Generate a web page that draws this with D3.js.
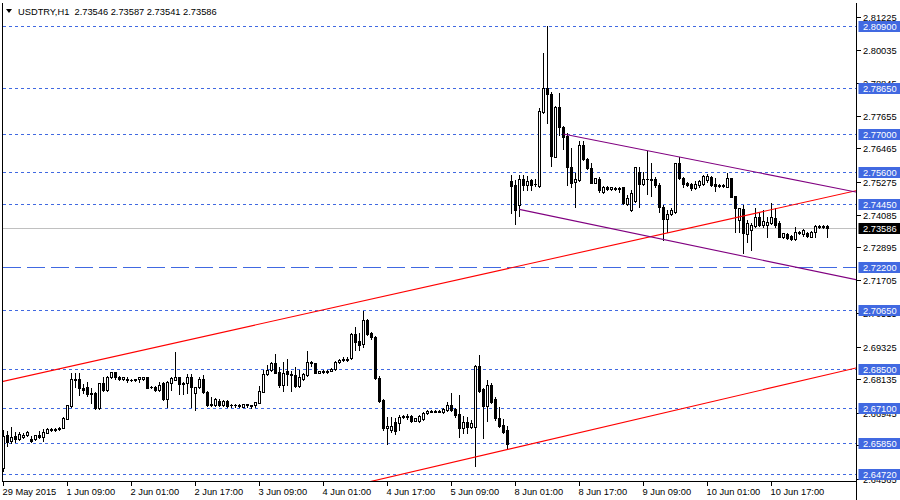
<!DOCTYPE html>
<html><head><meta charset="utf-8">
<script src="https://cdn.jsdelivr.net/npm/d3@7"></script>
<style>
html,body{margin:0;padding:0;background:#fff;}
svg{display:block;font-family:"Liberation Sans",Arial,sans-serif;}
</style></head><body>
<svg id="c" width="900" height="500"></svg>
<script>
// ---------------- DATA ----------------
const symbolTitle = "USDTRY,H1";
const headerValues = ["2.73546", "2.73587", "2.73541", "2.73586"];

// hourly candles: [open, high, low, close]
const candles = [
[2.6493,2.6631,2.6484,2.6610],[2.6613,2.6628,2.6573,2.6589],[2.6592,2.6641,2.6583,2.6607],[2.6610,2.6625,2.6589,2.6598],
[2.6598,2.6625,2.6595,2.6616],[2.6607,2.6619,2.6601,2.6613],[2.6613,2.6627,2.6610,2.6623],[2.6599,2.6610,2.6589,2.6592],
[2.6598,2.6613,2.6595,2.6612],[2.6613,2.6628,2.6601,2.6607],[2.6607,2.6634,2.6592,2.6624],[2.6622,2.6637,2.6620,2.6634],
[2.6634,2.6637,2.6629,2.6631],[2.6631,2.6637,2.6629,2.6634],[2.6634,2.6641,2.6631,2.6638],[2.6639,2.6677,2.6637,2.6673],
[2.6672,2.6722,2.6670,2.6721],[2.6718,2.6836,2.6716,2.6815],[2.6815,2.6836,2.6788,2.6812],[2.6815,2.6836,2.6758,2.6784],
[2.6784,2.6796,2.6764,2.6776],[2.6786,2.6806,2.6754,2.6760],[2.6766,2.6784,2.6728,2.6762],[2.6764,2.6770,2.6707,2.6710],
[2.6710,2.6802,2.6706,2.6800],[2.6802,2.6822,2.6773,2.6776],[2.6776,2.6826,2.6773,2.6824],[2.6822,2.6842,2.6818,2.6840],
[2.6840,2.6842,2.6815,2.6821],[2.6824,2.6826,2.6812,2.6817],[2.6817,2.6824,2.6812,2.6822],[2.6816,2.6821,2.6805,2.6813],
[2.6813,2.6816,2.6808,2.6810],[2.6810,2.6817,2.6808,2.6815],[2.6816,2.6822,2.6804,2.6822],[2.6815,2.6824,2.6813,2.6822],
[2.6822,2.6824,2.6782,2.6784],[2.6786,2.6790,2.6784,2.6788],[2.6788,2.6789,2.6773,2.6776],[2.6776,2.6806,2.6772,2.6794],
[2.6800,2.6806,2.6740,2.6742],[2.6742,2.6808,2.6716,2.6806],[2.6802,2.6824,2.6776,2.6820],[2.6812,2.6914,2.6810,2.6822],
[2.6822,2.6824,2.6760,2.6796],[2.6796,2.6806,2.6760,2.6800],[2.6800,2.6832,2.6764,2.6822],[2.6822,2.6832,2.6716,2.6788],
[2.6764,2.6788,2.6704,2.6788],[2.6788,2.6822,2.6784,2.6815],[2.6816,2.6830,2.6764,2.6768],[2.6770,2.6773,2.6718,2.6722],
[2.6722,2.6749,2.6718,2.6724],[2.6722,2.6746,2.6718,2.6742],[2.6736,2.6742,2.6718,2.6721],[2.6721,2.6740,2.6719,2.6737],
[2.6736,2.6740,2.6716,2.6718],[2.6720,2.6726,2.6716,2.6722],[2.6721,2.6726,2.6716,2.6722],[2.6721,2.6724,2.6713,2.6718],
[2.6716,2.6726,2.6714,2.6724],[2.6724,2.6726,2.6716,2.6722],[2.6720,2.6722,2.6710,2.6718],[2.6722,2.6734,2.6716,2.6731],
[2.6730,2.6790,2.6728,2.6772],[2.6770,2.6848,2.6768,2.6833],[2.6832,2.6866,2.6830,2.6848],[2.6848,2.6878,2.6845,2.6872],
[2.6874,2.6905,2.6836,2.6838],[2.6842,2.6860,2.6788,2.6794],[2.6794,2.6877,2.6771,2.6838],[2.6845,2.6886,2.6794,2.6833],
[2.6833,2.6845,2.6773,2.6829],[2.6830,2.6860,2.6786,2.6790],[2.6790,2.6848,2.6786,2.6822],[2.6815,2.6836,2.6812,2.6833],
[2.6830,2.6916,2.6826,2.6877],[2.6877,2.6881,2.6862,2.6872],[2.6872,2.6874,2.6836,2.6838],[2.6838,2.6845,2.6836,2.6843],
[2.6843,2.6846,2.6838,2.6840],[2.6840,2.6847,2.6838,2.6845],[2.6845,2.6856,2.6843,2.6852],[2.6850,2.6880,2.6848,2.6878],
[2.6877,2.6886,2.6874,2.6884],[2.6884,2.6893,2.6881,2.6886],[2.6886,2.6893,2.6881,2.6884],[2.6890,2.6980,2.6886,2.6977],
[2.6977,2.7004,2.6920,2.6950],[2.6953,2.6980,2.6920,2.6938],[2.6941,2.7062,2.6932,2.7028],[2.7028,2.7031,2.6974,2.6978],
[2.6982,2.6986,2.6960,2.6966],[2.6968,2.6970,2.6815,2.6818],[2.6820,2.6826,2.6733,2.6737],[2.6740,2.6742,2.6631,2.6638],
[2.6638,2.6679,2.6581,2.6646],[2.6630,2.6679,2.6625,2.6646],[2.6659,2.6673,2.6617,2.6629],[2.6656,2.6685,2.6631,2.6679],
[2.6677,2.6684,2.6675,2.6682],[2.6682,2.6689,2.6670,2.6679],[2.6682,2.6685,2.6660,2.6665],[2.6665,2.6676,2.6663,2.6674],
[2.6665,2.6685,2.6662,2.6682],[2.6670,2.6697,2.6667,2.6694],[2.6692,2.6703,2.6690,2.6701],[2.6701,2.6703,2.6696,2.6698],
[2.6698,2.6702,2.6696,2.6700],[2.6700,2.6702,2.6696,2.6698],[2.6698,2.6710,2.6694,2.6706],[2.6704,2.6733,2.6701,2.6722],
[2.6722,2.6764,2.6701,2.6704],[2.6706,2.6710,2.6679,2.6686],[2.6689,2.6758,2.6605,2.6638],[2.6638,2.6682,2.6622,2.6661],
[2.6661,2.6679,2.6620,2.6641],[2.6641,2.6667,2.6638,2.6658],[2.6643,2.6866,2.6502,2.6862],[2.6862,2.6902,2.6770,2.6773],
[2.6778,2.6782,2.6601,2.6718],[2.6718,2.6812,2.6665,2.6794],[2.6794,2.6800,2.6730,2.6733],[2.6742,2.6752,2.6667,2.6673],
[2.6673,2.6713,2.6643,2.6646],[2.6649,2.6670,2.6622,2.6625],[2.6631,2.6646,2.6562,2.6581],
[2.7529,2.7551,2.7415,2.7512],[2.7515,2.7533,2.7374,2.7425],[2.7443,2.7551,2.7403,2.7535],[2.7535,2.7551,2.7497,2.7515],
[2.7515,2.7547,2.7497,2.7530],[2.7533,2.7535,2.7497,2.7515],[2.7519,2.7537,2.7511,2.7518],[2.7512,2.7793,2.7508,2.7783],
[2.7779,2.7990,2.7776,2.7864],[2.7864,2.8088,2.7740,2.7843],[2.7843,2.7851,2.7583,2.7619],[2.7617,2.7800,2.7615,2.7795],
[2.7795,2.7848,2.7695,2.7723],[2.7723,2.7728,2.7644,2.7689],[2.7692,2.7701,2.7515,2.7579],[2.7581,2.7647,2.7509,2.7523],
[2.7527,2.7559,2.7434,2.7535],[2.7533,2.7675,2.7530,2.7659],[2.7659,2.7675,2.7605,2.7608],[2.7608,2.7611,2.7571,2.7575],
[2.7575,2.7593,2.7521,2.7523],[2.7523,2.7541,2.7521,2.7539],[2.7535,2.7545,2.7491,2.7497],[2.7491,2.7510,2.7487,2.7507],
[2.7507,2.7510,2.7496,2.7500],[2.7500,2.7509,2.7498,2.7506],[2.7503,2.7506,2.7497,2.7500],[2.7500,2.7507,2.7491,2.7503],
[2.7507,2.7509,2.7446,2.7449],[2.7446,2.7479,2.7443,2.7467],[2.7425,2.7497,2.7422,2.7485],[2.7458,2.7580,2.7455,2.7579],
[2.7561,2.7581,2.7434,2.7519],[2.7519,2.7563,2.7515,2.7535],[2.7535,2.7639,2.7482,2.7537],[2.7533,2.7593,2.7475,2.7537],
[2.7535,2.7543,2.7509,2.7515],[2.7515,2.7521,2.7419,2.7437],[2.7437,2.7443,2.7317,2.7391],[2.7391,2.7425,2.7346,2.7410],
[2.7410,2.7431,2.7406,2.7425],[2.7419,2.7595,2.7415,2.7593],[2.7593,2.7615,2.7535,2.7539],[2.7539,2.7543,2.7509,2.7519],
[2.7521,2.7527,2.7511,2.7515],[2.7519,2.7523,2.7497,2.7503],[2.7503,2.7530,2.7499,2.7517],[2.7515,2.7533,2.7507,2.7530],
[2.7517,2.7551,2.7515,2.7547],[2.7533,2.7555,2.7527,2.7547],[2.7543,2.7547,2.7511,2.7515],[2.7519,2.7539,2.7494,2.7511],
[2.7511,2.7517,2.7509,2.7515],[2.7515,2.7517,2.7509,2.7511],[2.7509,2.7557,2.7507,2.7541],[2.7539,2.7541,2.7471,2.7473],
[2.7475,2.7475,2.7346,2.7431],[2.7389,2.7433,2.7346,2.7431],[2.7429,2.7443,2.7269,2.7341],[2.7338,2.7389,2.7310,2.7377],
[2.7353,2.7377,2.7281,2.7371],[2.7367,2.7431,2.7362,2.7398],[2.7398,2.7413,2.7367,2.7371],[2.7371,2.7425,2.7365,2.7386],
[2.7371,2.7401,2.7329,2.7383],[2.7379,2.7449,2.7374,2.7398],[2.7395,2.7431,2.7365,2.7371],[2.7377,2.7386,2.7326,2.7328],
[2.7328,2.7343,2.7323,2.7341],[2.7338,2.7341,2.7320,2.7323],[2.7331,2.7334,2.7316,2.7319],[2.7319,2.7364,2.7317,2.7346],
[2.7346,2.7348,2.7338,2.7341],[2.7338,2.7355,2.7331,2.7353],[2.7341,2.7344,2.7329,2.7331],[2.7328,2.7348,2.7326,2.7346],
[2.7346,2.7371,2.7328,2.7367],[2.7367,2.7369,2.7360,2.7362],[2.7362,2.7369,2.7360,2.7366],[2.7366,2.7371,2.7326,2.7359]
];

const priceTicks = [2.81225, 2.80035, 2.78845, 2.77655, 2.76465, 2.75275, 2.74085, 2.72895,
                    2.71705, 2.70515, 2.69325, 2.68135, 2.66945, 2.65755, 2.64565];
const timeTickBars = [0, 16, 32, 48, 64, 80, 96, 112, 128, 144, 160, 176, 192];
const timeTickLabels = ["29 May 2015", "1 Jun 09:00", "2 Jun 01:00", "2 Jun 17:00", "3 Jun 09:00",
                        "4 Jun 01:00", "4 Jun 17:00", "5 Jun 09:00", "8 Jun 01:00", "8 Jun 17:00",
                        "9 Jun 09:00", "10 Jun 01:00", "10 Jun 17:00"];
const dottedLevels = [2.80900, 2.78650, 2.77000, 2.75600, 2.74450, 2.70650, 2.68500, 2.67100, 2.65850, 2.64720];
const dashedLevels = [2.72200];
const currentPrice = 2.73586;
// trend lines: two anchors [barIndex, price]
const redLines = [[[0, 2.6807], [206, 2.7471]], [[118, 2.6534], [206, 2.6831]]];
const purpleLines = [[[140, 2.7699], [206, 2.7510]], [[129, 2.7427], [206, 2.7195]]];

// ---------------- DRAW ----------------
const W = 900, H = 500;
const plot = {left: 2.5, right: 856.5, top: 2.5, bottom: 481.5};
const svg = d3.select("#c");
const x = d3.scaleLinear().domain([0, 206]).range([3.3, 827.3]);
const y = d3.scaleLinear().domain([2.64565, 2.81225]).range([478.5, 16.5]);
const py = v => Math.round(y(v)) + 0.5;
const BLUE = "#4169E1";

svg.append("defs").append("clipPath").attr("id", "plotclip")
  .append("rect").attr("x", plot.left).attr("y", plot.top)
  .attr("width", plot.right - plot.left).attr("height", plot.bottom - plot.top);

const g = svg.append("g").attr("clip-path", "url(#plotclip)");

// horizontal levels
g.selectAll(".lvl").data(dottedLevels).join("line")
  .attr("x1", plot.left).attr("x2", plot.right)
  .attr("y1", d => py(d)).attr("y2", d => py(d))
  .attr("stroke", BLUE).attr("stroke-width", 1).attr("stroke-dasharray", "3,3")
  .attr("shape-rendering", "crispEdges");
g.selectAll(".dlvl").data(dashedLevels).join("line")
  .attr("x1", plot.left).attr("x2", plot.right)
  .attr("y1", d => py(d)).attr("y2", d => py(d))
  .attr("stroke", BLUE).attr("stroke-width", 1).attr("stroke-dasharray", "18,6")
  .attr("shape-rendering", "crispEdges");
g.append("line").attr("x1", plot.left).attr("x2", plot.right)
  .attr("y1", py(currentPrice)).attr("y2", py(currentPrice))
  .attr("stroke", "#C0C0C0").attr("shape-rendering", "crispEdges");

// candles
const cg = g.append("g");
candles.forEach((c, i) => {
  const [o, h, l, cl] = c;
  const cx = Math.round(x(i));
  cg.append("line").attr("x1", cx + 0.5).attr("x2", cx + 0.5)
    .attr("y1", Math.round(y(h))).attr("y2", Math.round(y(l)) + 1)
    .attr("stroke", "#000").attr("shape-rendering", "crispEdges");
  const top = Math.round(y(Math.max(o, cl)));
  const bot = Math.round(y(Math.min(o, cl)));
  if (cl >= o) {
    if (bot - top >= 2) {
      cg.append("rect").attr("x", cx - 0.5).attr("y", top + 0.5)
        .attr("width", 2).attr("height", bot - top)
        .attr("fill", "#fff").attr("stroke", "#000").attr("shape-rendering", "crispEdges");
    } else {
      cg.append("rect").attr("x", cx - 1).attr("y", top).attr("width", 3).attr("height", Math.max(1, bot - top + 1))
        .attr("fill", "#000").attr("shape-rendering", "crispEdges");
    }
  } else {
    cg.append("rect").attr("x", cx - 1).attr("y", top).attr("width", 3).attr("height", Math.max(1, bot - top + 1))
      .attr("fill", "#000").attr("shape-rendering", "crispEdges");
  }
});

// trend lines
const xi0 = x.invert(plot.left - 2), xi1 = x.invert(plot.right + 2);
function extend(a, b, fromStart) {
  const slope = (b[1] - a[1]) / (b[0] - a[0]);
  const s = fromStart ? a[0] : xi0;
  return [[s, a[1] + slope * (s - a[0])], [xi1, a[1] + slope * (xi1 - a[0])]];
}
redLines.forEach(([a, b]) => {
  const pts = extend(a, b, false);
  g.append("line").attr("x1", x(pts[0][0])).attr("y1", y(pts[0][1]))
    .attr("x2", x(pts[1][0])).attr("y2", y(pts[1][1]))
    .attr("stroke", "#FF0000").attr("stroke-width", 1.1);
});
purpleLines.forEach(([a, b]) => {
  const pts = extend(a, b, true);
  g.append("line").attr("x1", x(pts[0][0])).attr("y1", y(pts[0][1]))
    .attr("x2", x(pts[1][0])).attr("y2", y(pts[1][1]))
    .attr("stroke", "#800080").attr("stroke-width", 1.1);
});

// frame / axes
svg.append("line").attr("x1", plot.left).attr("x2", plot.left).attr("y1", plot.top).attr("y2", plot.bottom)
  .attr("stroke", "#000").attr("shape-rendering", "crispEdges");
svg.append("line").attr("x1", plot.right).attr("x2", plot.right).attr("y1", plot.top).attr("y2", H)
  .attr("stroke", "#000").attr("shape-rendering", "crispEdges");
svg.append("line").attr("x1", plot.left).attr("x2", plot.right).attr("y1", plot.bottom).attr("y2", plot.bottom)
  .attr("stroke", "#000").attr("shape-rendering", "crispEdges");

const FS = "9.3px";
// price ticks
const pt = svg.append("g");
priceTicks.forEach(v => {
  const yy = py(v);
  pt.append("line").attr("x1", plot.right).attr("x2", plot.right + 4).attr("y1", yy).attr("y2", yy)
    .attr("stroke", "#000").attr("shape-rendering", "crispEdges");
  pt.append("text").attr("x", 863).attr("y", yy).attr("dy", "0.35em")
    .attr("font-size", FS).attr("fill", "#000").text(v.toFixed(5));
});
// level labels
[...dottedLevels, ...dashedLevels].forEach(v => {
  const yy = Math.round(y(v));
  pt.append("rect").attr("x", 858.5).attr("y", yy - 5).attr("width", 42).attr("height", 11)
    .attr("fill", BLUE);
  pt.append("text").attr("x", 863).attr("y", yy + 0.5).attr("dy", "0.35em")
    .attr("font-size", FS).attr("fill", "#fff").text(v.toFixed(5));
});
{
  const yy = Math.round(y(currentPrice));
  pt.append("rect").attr("x", 858.5).attr("y", yy - 5).attr("width", 42).attr("height", 11).attr("fill", "#000");
  pt.append("text").attr("x", 863).attr("y", yy + 0.5).attr("dy", "0.35em")
    .attr("font-size", FS).attr("fill", "#fff").text(currentPrice.toFixed(5));
}

// time ticks
const tt = svg.append("g");
timeTickBars.forEach((b, k) => {
  const xx = Math.round(x(b)) + 0.5;
  tt.append("line").attr("x1", xx).attr("x2", xx).attr("y1", plot.bottom).attr("y2", plot.bottom + 4)
    .attr("stroke", "#000").attr("shape-rendering", "crispEdges");
  tt.append("text").attr("x", xx - 1).attr("y", 495).attr("font-size", FS).attr("fill", "#000")
    .text(timeTickLabels[k]);
});

// header
svg.append("path").attr("d", "M6,9 L12,9 L9,13 Z").attr("fill", "#000");
svg.append("text").attr("x", 18).attr("y", 15).attr("font-size", FS).attr("fill", "#000")
  .attr("xml:space", "preserve")
  .text(symbolTitle + "  " + headerValues.join(" "));
</script>
</body></html>
